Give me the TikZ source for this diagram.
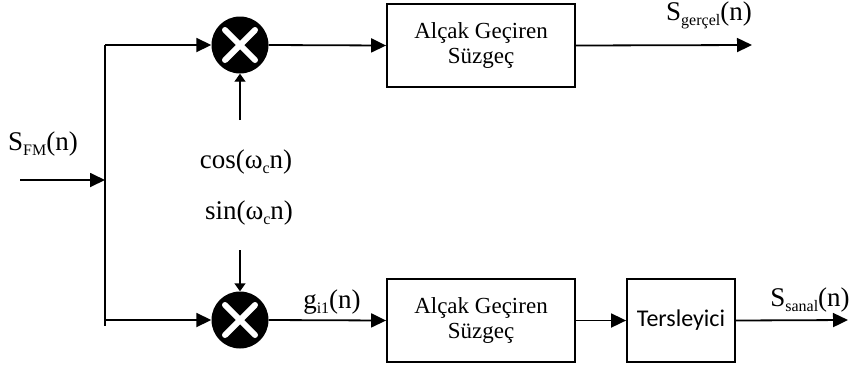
\documentclass[tikz,border=0pt]{standalone}
\usepackage{fontspec}
\setmainfont{Liberation Serif}
\newfontfamily\calibrifont{Carlito}
\usetikzlibrary{arrows.meta}
\newcommand{\lowsub}[1]{\raisebox{-0.4ex}{\fontsize{16pt}{16pt}\selectfont #1}}
\begin{document}
\begin{tikzpicture}[x=1pt,y=-1pt,
  wire/.style={line width=1.8pt},
  sig/.style={wire,-{Triangle[length=15pt,width=14pt]}},
  feed/.style={line width=1.4pt,-{Triangle[length=8pt,width=11pt]}},
  mult/.style={circle,fill=black,minimum size=57pt,inner sep=0pt},
  filterbox/.style={draw,line width=1.8pt,minimum width=188pt,minimum height=83pt,
    align=center,font=\fontsize{23pt}{25pt}\selectfont,inner sep=0pt},
  invbox/.style={draw,line width=1.8pt,minimum width=108pt,minimum height=83pt,
    font=\calibrifont\fontsize{24pt}{28pt}\selectfont,inner sep=0pt},
  lbl/.style={font=\fontsize{27pt}{30pt}\selectfont,inner sep=0pt}]
\useasboundingbox (0,0) rectangle (856,368);

% multipliers
\node[mult] (m1) at (240,45) {};
\node[mult] (m2) at (240,320) {};
\foreach \m in {m1,m2}{
  \draw[white,line width=6pt,line cap=round]
    ([shift={(-15pt,-15pt)}]\m.center) -- ([shift={(15pt,15pt)}]\m.center);
  \draw[white,line width=6pt,line cap=round]
    ([shift={(-15pt,15pt)}]\m.center) -- ([shift={(15pt,-15pt)}]\m.center);
}

% blocks
\node[filterbox] (f1) at (481,45.5) {Alçak Geçiren\\Süzgeç};
\node[filterbox] (f2) at (481,320.5) {Alçak Geçiren\\Süzgeç};
\node[invbox] (inv) at (681,320.5) {Tersleyici};

% points on the wiring
\coordinate (in) at (20,180);
\coordinate (j) at (105,180);
\coordinate (jt) at (105,45);
\coordinate (jb) at (105,320);
\coordinate (jbe) at (105,326);
\coordinate (c1) at (240,120);
\coordinate (s1) at (240,250);
\coordinate (o1) at (752,45);
\coordinate (o2) at (848,320);

% connectors
\draw[sig] (in) -- (j);
\draw[wire] (jt) -- (jbe);
\draw[sig] (jt) -- (m1.west);
\draw[sig] (jb) -- (m2.west);
\draw[sig] (m1.east) -- (f1.west);
\draw[sig] (m2.east) -- (f2.west);
\draw[sig] (f1.east) -- (o1);
\draw[sig] (f2.east) -- (inv.west);
\draw[sig] (inv.east) -- (o2);
\draw[feed] (c1) -- (m1.south);
\draw[feed] (s1) -- (m2.north);

% labels
\node[lbl] (lin) at (43,144) {S\lowsub{FM}(n)};
\node[lbl] (lcos) at (246,162) {cos(ω\lowsub{c}n)};
\node[lbl] (lsin) at (249,213) {sin(ω\lowsub{c}n)};
\node[lbl] (lg) at (332,302) {g\lowsub{i1}(n)};
\node[lbl] (lo1) at (709,15) {S\lowsub{gerçel}(n)};
\node[lbl] (lo2) at (810,300) {S\lowsub{sanal}(n)};
\end{tikzpicture}
\end{document}
